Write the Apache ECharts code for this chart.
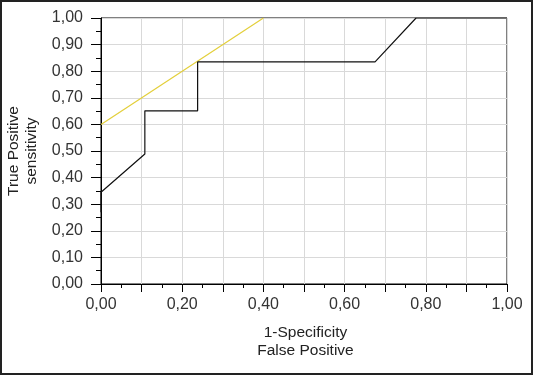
<!DOCTYPE html>
<html>
<head>
<meta charset="utf-8">
<script src="https://cdn.jsdelivr.net/npm/echarts@6/dist/echarts.min.js"></script>
<style>
html,body{margin:0;padding:0;background:#fff;}
#c{width:533px;height:375px;}
</style>
</head>
<body>
<div id="c"></div>
<script>
// ROC curve (black)
const rocX = [0, 0, 0.108, 0.108, 0.238, 0.238, 0.675, 0.776, 1.0];
const rocY = [0.27, 0.345, 0.489, 0.651, 0.651, 0.835, 0.835, 1.0, 1.0];
// reference line (yellow)
const refX = [0, 0.40];
const refY = [0.60, 1.00];
const xTitle = '1-Specificity\nFalse Positive';
const yTitle = 'True Positive\nsensitivity';

const fmt = v => v.toFixed(2).replace('.', ',');
const pairs = (xs, ys) => xs.map((x, i) => [x, ys[i]]);

const chart = echarts.init(document.getElementById('c'));
chart.setOption({
  animation: false,
  backgroundColor: '#fff',
  textStyle: {fontFamily: 'Liberation Sans, Arial, sans-serif'},
  graphic: [{
    type: 'rect', silent: true, z: 100,
    shape: {x: 1, y: 1, width: 531, height: 373},
    style: {fill: 'none', stroke: '#222', lineWidth: 2}
  }],
  grid: {left: 101, right: 26, top: 18, bottom: 91, show: true, borderColor: '#000', borderWidth: 1,
    backgroundColor: 'transparent', containLabel: false, outerBoundsMode: 'none'},
  xAxis: {
    type: 'value', min: 0, max: 1, interval: 0.1,
    name: xTitle, nameLocation: 'middle', nameGap: 40,
    nameTextStyle: {fontSize: 15.5, color: '#222', lineHeight: 18, verticalAlign: 'top', padding: [0, 0, 0, 3]},
    axisLine: {show: true, lineStyle: {color: '#000', width: 1}},
    axisTick: {show: true, length: 8, lineStyle: {color: '#000'}},
    minorTick: {show: true, splitNumber: 2, length: 4, lineStyle: {color: '#000'}},
    axisLabel: {fontSize: 16, color: '#333', margin: 13,
      formatter: v => (Math.round(v * 10) % 2 === 0 ? fmt(v) : '')},
    splitLine: {show: true, lineStyle: {color: '#d9d9d9', width: 1}}
  },
  yAxis: {
    type: 'value', min: 0, max: 1, interval: 0.1,
    name: yTitle, nameLocation: 'middle', nameGap: 55, nameRotate: 90,
    nameTextStyle: {fontSize: 15.5, color: '#222', lineHeight: 18},
    axisLine: {show: true, lineStyle: {color: '#000', width: 1}},
    axisTick: {show: true, length: 10, lineStyle: {color: '#000'}},
    minorTick: {show: true, splitNumber: 2, length: 5, lineStyle: {color: '#000'}},
    axisLabel: {fontSize: 16, color: '#333', margin: 18, formatter: v => fmt(v)},
    splitLine: {show: true, lineStyle: {color: '#d9d9d9', width: 1}}
  },
  series: [
    {type: 'line', data: pairs(refX, refY), symbol: 'none', lineStyle: {color: '#e3cf3a', width: 1.2}, z: 3},
    {type: 'line', data: pairs(rocX, rocY), symbol: 'none', lineStyle: {color: '#111', width: 1.2}, z: 4}
  ]
});
</script>
</body>
</html>
